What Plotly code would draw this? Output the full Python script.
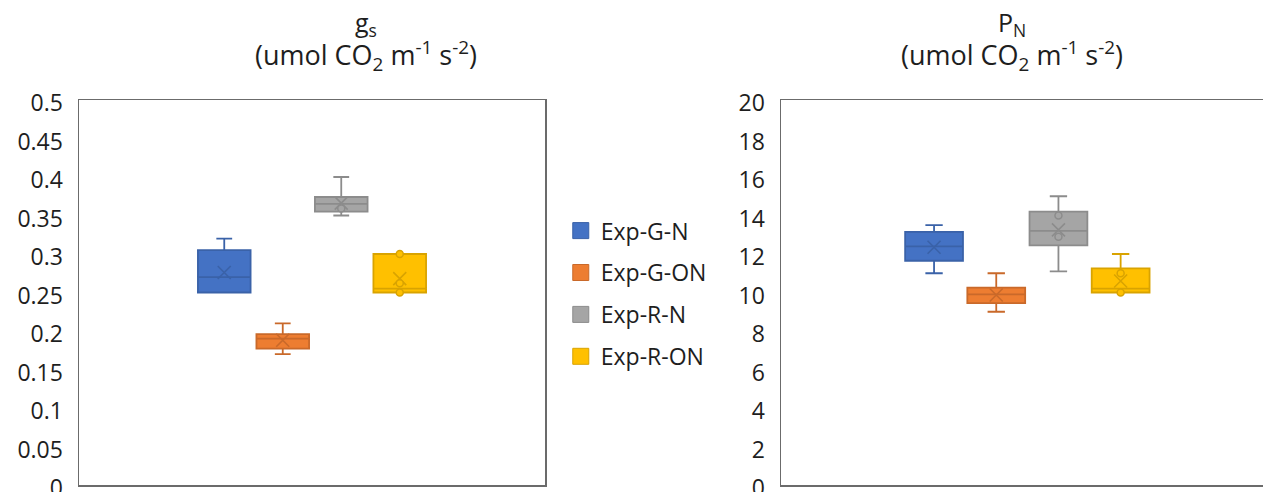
import plotly.graph_objects as go

# ---------------- data ----------------
series = ["Exp-G-N", "Exp-G-ON", "Exp-R-N", "Exp-R-ON"]
fill_colors = ["#4472C4", "#ED7D31", "#A5A5A5", "#FFC000"]
line_colors = ["#3A62A8", "#C9692A", "#8C8C8C", "#D9A300"]

# stomatal conductance g_s
gs_min = [0.25, 0.17, 0.35, 0.25]
gs_q1 = [0.25, 0.177, 0.355, 0.25]
gs_med = [0.27, 0.19, 0.365, 0.255]
gs_q3 = [0.305, 0.196, 0.374, 0.30]
gs_max = [0.32, 0.21, 0.40, 0.30]
gs_mean = [0.276, 0.188, 0.366, 0.268]
gs_points = [[], [], [0.359], [0.30, 0.262, 0.25]]

# net photosynthesis P_N
pn_min = [11.0, 9.0, 11.1, 10.0]
pn_q1 = [11.65, 9.45, 12.45, 10.0]
pn_med = [12.4, 9.9, 13.2, 10.2]
pn_q3 = [13.15, 10.25, 14.2, 11.25]
pn_max = [13.5, 11.0, 15.0, 12.0]
pn_mean = [12.35, 9.87, 13.25, 10.6]
pn_points = [[], [], [14.0, 12.9], [11.0, 10.0]]

gs_ticks = [0, 0.05, 0.1, 0.15, 0.2, 0.25, 0.3, 0.35, 0.4, 0.45, 0.5]
gs_ticktext = ["0", "0.05", "0.1", "0.15", "0.2", "0.25", "0.3", "0.35", "0.4", "0.45", "0.5"]
pn_ticks = [0, 2, 4, 6, 8, 10, 12, 14, 16, 18, 20]

FONT = "Open Sans"
TXT = "#1E1E1E"

fig = go.Figure()


def add_panel(xa, ya, vmin, q1, med, q3, vmax, mean, points, width):
    for i, name in enumerate(series):
        fig.add_trace(go.Box(
            x=[name], q1=[q1[i]], median=[med[i]], q3=[q3[i]],
            lowerfence=[vmin[i]], upperfence=[vmax[i]],
            name=name, width=width, whiskerwidth=0.3,
            fillcolor=fill_colors[i],
            line=dict(color=line_colors[i], width=1.8),
            boxpoints=False, showlegend=False, hoverinfo="skip",
            xaxis=xa, yaxis=ya,
        ))
        fig.add_trace(go.Scatter(
            x=[name], y=[mean[i]], mode="markers",
            marker=dict(symbol="x-thin-open", size=13, color=line_colors[i],
                        line=dict(color=line_colors[i], width=1.6)),
            showlegend=False, hoverinfo="skip", xaxis=xa, yaxis=ya,
        ))
        if points[i]:
            fig.add_trace(go.Scatter(
                x=[name] * len(points[i]), y=points[i], mode="markers",
                marker=dict(symbol="circle", size=7, color=fill_colors[i],
                            line=dict(color=line_colors[i], width=1.5)),
                showlegend=False, hoverinfo="skip", xaxis=xa, yaxis=ya,
            ))


add_panel("x", "y", gs_min, gs_q1, gs_med, gs_q3, gs_max, gs_mean, gs_points, 0.9)
add_panel("x2", "y2", pn_min, pn_q1, pn_med, pn_q3, pn_max, pn_mean, pn_points, 0.93)

# legend entries (squares)
for i, name in enumerate(series):
    fig.add_trace(go.Scatter(
        x=[None], y=[None], mode="markers", name=name, legendgroup=name,
        marker=dict(symbol="square", size=16, color=fill_colors[i],
                    line=dict(color=line_colors[i], width=1)),
        xaxis="x", yaxis="y",
    ))

axis_line = dict(showline=True, linecolor="#6B6B6B", linewidth=1.5,
                 showgrid=False, zeroline=False, automargin=False)

fig.update_layout(
    width=1263, height=492,
    margin=dict(l=0, r=0, t=100, b=7, autoexpand=False),
    paper_bgcolor="white", plot_bgcolor="white",
    font=dict(family=FONT, color=TXT),
    showlegend=True,
    legend=dict(x=0.444, y=0.497, xanchor="left", yanchor="middle",
                font=dict(family=FONT, size=23, color=TXT),
                tracegroupgap=9, itemclick=False, itemdoubleclick=False),
    xaxis=dict(domain=[79 / 1263, 545 / 1263], type="category",
               categoryarray=series, range=[-2.483, 5.483],
               showticklabels=False, ticks="", mirror=True, **axis_line),
    yaxis=dict(range=[0, 0.5], tickvals=gs_ticks, ticktext=gs_ticktext,
               ticks="outside", ticklen=10, tickcolor="rgba(0,0,0,0)",
               tickfont=dict(family=FONT, size=23, color=TXT),
               ticklabelshift=3, ticklabeloverflow="allow",
               mirror=True, **axis_line),
    xaxis2=dict(domain=[781 / 1263, 1.0], type="category", anchor="y2",
                categoryarray=series, range=[-2.461, 5.289],
                showticklabels=False, ticks="", mirror=True, **axis_line),
    yaxis2=dict(range=[0, 20], tickvals=pn_ticks, anchor="x2",
                ticks="outside", ticklen=10, tickcolor="rgba(0,0,0,0)",
                tickfont=dict(family=FONT, size=23, color=TXT),
                ticklabelshift=3, ticklabeloverflow="allow",
                mirror=False, **axis_line),
)

titles = [
    (366 / 1263, "g<sub>s</sub>"),
    (1012 / 1263, "P<sub>N</sub>"),
]
unit = "(umol CO<sub>2</sub> m<sup>-1</sup> s<sup>-2</sup>)"
for xpos, sym in titles:
    fig.add_annotation(
        xref="paper", yref="paper", x=xpos, y=(485 - 24) / 385,
        xanchor="center", yanchor="middle", showarrow=False,
        text=sym, font=dict(family=FONT, size=25, color=TXT),
    )
    fig.add_annotation(
        xref="paper", yref="paper", x=xpos, y=(485 - 55) / 385,
        xanchor="center", yanchor="middle", showarrow=False,
        text=unit, font=dict(family=FONT, size=27, color=TXT),
    )

fig.write_html(
    "out.html",
    config={"displayModeBar": False, "staticPlot": True},
    post_script="document.body.style.margin='0';document.body.style.overflow='hidden';",
)
